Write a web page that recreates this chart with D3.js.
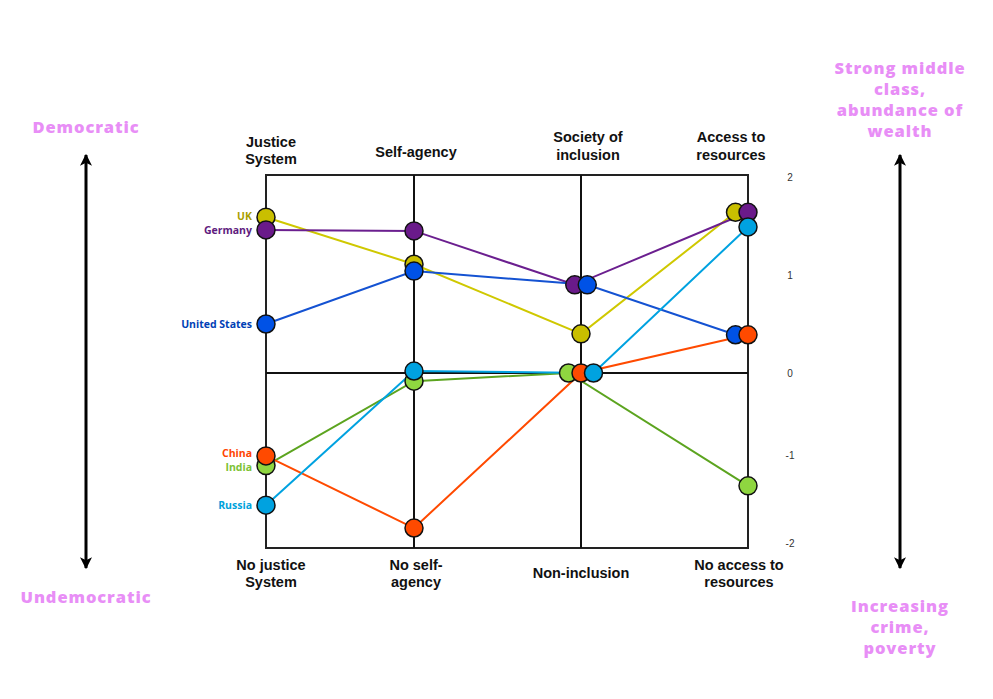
<!DOCTYPE html>
<html><head><meta charset="utf-8">
<script src="https://cdn.jsdelivr.net/npm/d3@7"></script>
<style>
html,body{margin:0;padding:0;background:#fff;}
svg{display:block;}
</style></head>
<body>
<svg id="chart" width="993" height="699"></svg>
<script>
// ---------- data ----------
const categories = ["Justice System", "Self-agency", "Society of inclusion", "Access to resources"];
const topLabels = [["Justice", "System"], ["Self-agency"], ["Society of", "inclusion"], ["Access to", "resources"]];
const bottomLabels = [["No justice", "System"], ["No self-", "agency"], ["Non-inclusion"], ["No access to", "resources"]];
const yTicks = [2, 1, 0, -1, -2];

const countries = ["UK", "Germany", "United States", "India", "China", "Russia"];
const ukValues      = [1.59, 1.11, 0.40, 1.64];
const germanyValues = [1.46, 1.45, 0.90, 1.64];
const usValues      = [0.50, 1.04, 0.90, 0.39];
const indiaValues   = [-1.12, -0.10, 0.00, -1.35];
const chinaValues   = [-1.01, -1.83, 0.00, 0.39];
const russiaValues  = [-1.57, 0.02, 0.00, 1.49];

const leftTop = "Democratic", leftBottom = "Undemocratic";
const rightTop = ["Strong middle", "class,", "abundance of", "wealth"];
const rightBottom = ["Increasing", "crime,", "poverty"];

// ---------- styles ----------
const styles = {
  "UK":            {fill: "#c9bf00", line: "#cfc800", label: "#a9a000"},
  "Germany":       {fill: "#6a1a8a", line: "#6b1f8f", label: "#5e1b7e"},
  "United States": {fill: "#0052e6", line: "#1452d2", label: "#003fb5"},
  "India":         {fill: "#8fd640", line: "#5ca41f", label: "#7cc234"},
  "China":         {fill: "#ff4a00", line: "#ff4a00", label: "#ff4300"},
  "Russia":        {fill: "#00a2e0", line: "#00a2e0", label: "#00a2dc"}
};
const series = [ukValues, germanyValues, usValues, indiaValues, chinaValues, russiaValues]
  .map((v, i) => ({name: countries[i], values: v}));

const svg = d3.select("#chart");
const x = d3.scaleOrdinal().domain(categories).range([266, 414, 581, 748]);
const y = d3.scaleLinear().domain([-2, -1, 0, 1, 2]).range([543, 455, 373, 275, 177]);
const frameTop = 175, frameBottom = 548;
const R = 9, step = 12.5;
const catFont = "'Liberation Sans', Arial, sans-serif";
const gillFont = "'Open Sans', Lato, sans-serif";
const pink = "#e88ef6";

// ---------- frame & grid ----------
const g = svg.append("g");
g.append("rect").attr("x", x(categories[0])).attr("y", frameTop)
  .attr("width", x(categories[3]) - x(categories[0])).attr("height", frameBottom - frameTop)
  .attr("fill", "none").attr("stroke", "#222").attr("stroke-width", 2);
categories.slice(1, 3).forEach(c => {
  g.append("line").attr("x1", x(c)).attr("x2", x(c)).attr("y1", frameTop).attr("y2", frameBottom)
    .attr("stroke", "#111").attr("stroke-width", 2);
});
g.append("line").attr("x1", x(categories[0])).attr("x2", x(categories[3]))
  .attr("y1", y(0)).attr("y2", y(0)).attr("stroke", "#111").attr("stroke-width", 2);

// y tick labels
g.selectAll(".ytick").data(yTicks).join("text")
  .attr("x", 790).attr("y", d => y(d)).attr("dy", "0.35em")
  .attr("text-anchor", "middle").attr("font-family", catFont).attr("font-size", 10)
  .attr("fill", "#333").text(d => d);

// ---------- dodge overlapping markers ----------
const pos = series.map(() => []);
categories.forEach((c, ci) => {
  const pts = series.map((s, si) => ({si, py: y(s.values[ci])})).sort((a, b) => a.py - b.py);
  const clusters = [];
  pts.forEach(p => {
    const last = clusters[clusters.length - 1];
    if (last && Math.abs(p.py - last[last.length - 1].py) < 5) last.push(p); else clusters.push([p]);
  });
  clusters.forEach(cl => {
    cl.sort((a, b) => a.si - b.si);
    const n = cl.length;
    cl.forEach((p, k) => {
      const off = ci === categories.length - 1 ? -(n - 1 - k) * step : (k - (n - 1) / 2) * step;
      pos[p.si][ci] = [x(c) + off, p.py];
    });
  });
});

// ---------- lines ----------
const line = d3.line();
series.forEach((s, si) => {
  g.append("path").attr("d", line(pos[si])).attr("fill", "none")
    .attr("stroke", styles[s.name].line).attr("stroke-width", 2);
});
// ---------- markers ----------
series.forEach((s, si) => {
  g.selectAll(null).data(pos[si]).join("circle")
    .attr("cx", d => d[0]).attr("cy", d => d[1]).attr("r", R)
    .attr("fill", styles[s.name].fill).attr("stroke", "#111").attr("stroke-width", 1.5);
});

// ---------- country labels (kept apart vertically) ----------
const labs = series.map(s => ({name: s.name, ly: y(s.values[0])})).sort((a, b) => a.ly - b.ly);
const minGap = 14;
for (let i = 1; i < labs.length; i++) {
  const gap = labs[i].ly - labs[i - 1].ly;
  if (gap < minGap) { const d = (minGap - gap) / 2; labs[i - 1].ly -= d; labs[i].ly += d; }
}
labs.forEach(l => {
  g.append("text").attr("x", 252).attr("y", l.ly).attr("dy", "0.35em")
    .attr("text-anchor", "end").attr("font-family", gillFont).attr("font-weight", 700)
    .attr("font-size", 10.5).attr("fill", styles[l.name].label).text(l.name);
});

// ---------- category labels ----------
const topDx = [5, 2, 7, -17], botDx = [5, 2, 0, -9];
function multiline(lines, cx, cy, lh, opts) {
  const t = g.append("text").attr("text-anchor", "middle").attr("font-family", opts.font)
    .attr("font-weight", opts.weight).attr("font-size", opts.size).attr("fill", opts.fill);
  if (opts.ls) t.attr("letter-spacing", opts.ls);
  const y0 = cy - (lines.length - 1) * lh / 2;
  lines.forEach((l, i) => t.append("tspan").attr("x", cx).attr("y", y0 + i * lh).attr("dy", "0.35em").text(l));
}
const catOpts = {font: catFont, weight: 700, size: 14.5, fill: "#111"};
const topCy = [150.5, 152, 146, 146];
categories.forEach((c, i) => {
  multiline(topLabels[i], x(c) + topDx[i], topCy[i], 17.5, catOpts);
  multiline(bottomLabels[i], x(c) + botDx[i], 573, 17, catOpts);
});

// ---------- side arrows ----------
const defs = svg.append("defs");
defs.append("marker").attr("id", "ah").attr("viewBox", "0 0 10 10").attr("refX", 9).attr("refY", 5)
  .attr("markerWidth", 4).attr("markerHeight", 4).attr("orient", "auto-start-reverse")
  .append("path").attr("d", "M0,0 L10,5 L0,10 L2.5,5 Z").attr("fill", "#000");
[86, 900].forEach(ax => {
  g.append("line").attr("x1", ax).attr("x2", ax).attr("y1", 155).attr("y2", 568)
    .attr("stroke", "#000").attr("stroke-width", 3)
    .attr("marker-start", "url(#ah)").attr("marker-end", "url(#ah)");
});
const pinkOpts = {font: gillFont, weight: 800, size: 16.5, fill: pink, ls: 0.9};
multiline([leftTop], 86, 127, 21, pinkOpts);
multiline([leftBottom], 86, 597, 21, pinkOpts);
multiline(rightTop, 900, 99.5, 21, pinkOpts);
multiline(rightBottom, 900, 627, 21, pinkOpts);
</script>
</body></html>
